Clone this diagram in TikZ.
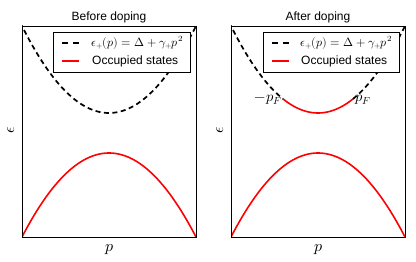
\documentclass[tikz,border=0pt]{standalone}
\usepackage{fontspec}
\setmainfont{Liberation Sans}
\usepackage{unicode-math}
\setmathfont{Latin Modern Math}
\begin{document}
\begin{tikzpicture}[x=1pt,y=-1pt,
  frame/.style={draw=black,line width=0.8pt},
  band/.style={red,line width=1.6pt},
  dband/.style={black,line width=1.7pt,dash pattern=on 5pt off 3.5pt},
  lab/.style={font=\fontsize{12}{14}\selectfont,inner sep=0pt},
  axlab/.style={font=\fontsize{16}{18}\selectfont,inner sep=0pt},
  pflab/.style={font=\fontsize{14.5}{16}\selectfont,inner sep=0pt},
  legbox/.style={draw=black,fill=white,line width=0.8pt}]
\useasboundingbox (0,0) rectangle (416,262);
% ---------- left panel
\coordinate (L1) at (22,26);
\coordinate (L2) at (196,237);
\begin{scope}
\clip (L1) rectangle (L2);
\draw[dband] plot[domain=-1.02:1.02,samples=60] ({109+87*\x},{113-87*\x*\x});
\draw[band] plot[domain=-1:1,samples=60] ({109+87*\x},{153+84*\x*\x});
\end{scope}
\draw[frame] (L1) rectangle (L2);
\node[lab] (t1) at (109,17) {Before doping};
\node[axlab,rotate=90] (e1) at (11,130) {$\epsilon$};
\node[axlab] (p1) at (109.5,250) {$p$};
\node[legbox,minimum width=137pt,minimum height=40pt,inner sep=0pt] (lg1) at (121.5,52) {};
\coordinate (d1a) at (62,43); \coordinate (d1b) at (79,43);
\draw[black,line width=1.7pt,dash pattern=on 6pt off 5pt] (d1a) -- (d1b);
\coordinate (r1a) at (62,61); \coordinate (r1b) at (79,61);
\draw[band] (r1a) -- (r1b);
\node[lab,anchor=west] (m1) at (91,43) {$\epsilon_{+}(p)=\Delta+\gamma_{+}p^{2}$};
\node[lab,anchor=west] (o1) at (92,61.5) {Occupied states};
% ---------- right panel
\coordinate (R1) at (231,26);
\coordinate (R2) at (405,237);
\begin{scope}
\clip (R1) rectangle (R2);
\draw[dband] plot[domain=-1.02:-0.4,samples=40] ({318+87*\x},{113-87*\x*\x});
\draw[dband] plot[domain=0.4:1.02,samples=40] ({318+87*\x},{113-87*\x*\x});
\draw[band] plot[domain=-0.4:0.4,samples=40] ({318+87*\x},{113-87*\x*\x});
\draw[band] plot[domain=-1:1,samples=60] ({318+87*\x},{153+84*\x*\x});
\end{scope}
\draw[frame] (R1) rectangle (R2);
\node[lab] (t2) at (318,17) {After doping};
\node[axlab,rotate=90] (e2) at (220,130) {$\epsilon$};
\node[axlab] (p2) at (318.5,250) {$p$};
\node[legbox,minimum width=136pt,minimum height=40pt,inner sep=0pt] (lg2) at (331,52.5) {};
\coordinate (d2a) at (272,43); \coordinate (d2b) at (289,43);
\draw[black,line width=1.7pt,dash pattern=on 6pt off 5pt] (d2a) -- (d2b);
\coordinate (r2a) at (272,61); \coordinate (r2b) at (289,61);
\draw[band] (r2a) -- (r2b);
\node[lab,anchor=west] (m2) at (300,43) {$\epsilon_{+}(p)=\Delta+\gamma_{+}p^{2}$};
\node[lab,anchor=west] (o2) at (301,61.5) {Occupied states};
\node[pflab,anchor=east] (pf1) at (282,100) {$-p_F$};
\node[pflab,anchor=west] (pf2) at (355,100) {$p_F$};
\end{tikzpicture}
\end{document}
